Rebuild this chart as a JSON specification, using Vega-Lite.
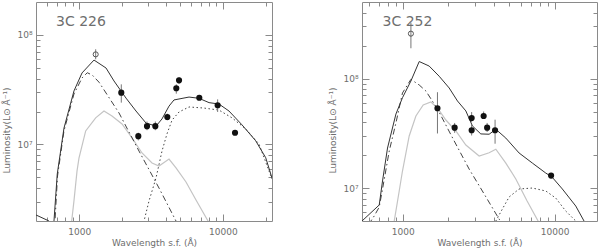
{
  "$schema": "https://vega.github.io/schema/vega-lite/v6.json",
  "padding": {"left": 2, "top": 1, "right": 0, "bottom": 0},
  "background": "white",
  "config": {
    "view": {"stroke": "#8a8a8a", "strokeWidth": 1},
    "font": "DejaVu Sans",
    "axis": {"domain": false, "grid": false, "tickColor": "#8a8a8a", "tickWidth": 1, "labelColor": "#6e6e6e", "titleColor": "#6e6e6e", "labelFont": "DejaVu Sans", "titleFont": "DejaVu Sans", "labelFontSize": 9, "titleFontSize": 9, "titleFontWeight": "normal"}
  },
  "datasets": {
    "curves": [
      {"p": "226", "s": "total", "w": 500, "L": 2.27e6}, {"p": "226", "s": "total", "w": 616, "L": 2.0e6}, {"p": "226", "s": "total", "w": 640, "L": 1.8e6}, {"p": "226", "s": "total", "w": 667, "L": 2.0e6}, {"p": "226", "s": "total", "w": 703, "L": 5.37e6}, {"p": "226", "s": "total", "w": 783, "L": 1.41e7}, {"p": "226", "s": "total", "w": 919, "L": 3.08e7}, {"p": "226", "s": "total", "w": 1046, "L": 4.5e7}, {"p": "226", "s": "total", "w": 1267, "L": 5.9e7}, {"p": "226", "s": "total", "w": 1537, "L": 4.99e7}, {"p": "226", "s": "total", "w": 1746, "L": 3.8e7}, {"p": "226", "s": "total", "w": 2118, "L": 2.65e7}, {"p": "226", "s": "total", "w": 2485, "L": 2.02e7}, {"p": "226", "s": "total", "w": 2917, "L": 1.57e7}, {"p": "226", "s": "total", "w": 3425, "L": 1.47e7}, {"p": "226", "s": "total", "w": 3770, "L": 1.71e7}, {"p": "226", "s": "total", "w": 4220, "L": 2.24e7}, {"p": "226", "s": "total", "w": 4570, "L": 2.55e7}, {"p": "226", "s": "total", "w": 5815, "L": 2.71e7}, {"p": "226", "s": "total", "w": 6823, "L": 2.64e7}, {"p": "226", "s": "total", "w": 8017, "L": 2.41e7}, {"p": "226", "s": "total", "w": 9400, "L": 2.34e7}, {"p": "226", "s": "total", "w": 11040, "L": 2.02e7}, {"p": "226", "s": "total", "w": 13600, "L": 1.51e7}, {"p": "226", "s": "total", "w": 16940, "L": 1.08e7}, {"p": "226", "s": "total", "w": 19890, "L": 7.57e6}, {"p": "226", "s": "total", "w": 22000, "L": 4.94e6},
      {"p": "226", "s": "agn", "w": 660, "L": 1.6e6}, {"p": "226", "s": "agn", "w": 678, "L": 2.0e6}, {"p": "226", "s": "agn", "w": 706, "L": 5.15e6}, {"p": "226", "s": "agn", "w": 783, "L": 1.33e7}, {"p": "226", "s": "agn", "w": 919, "L": 2.89e7}, {"p": "226", "s": "agn", "w": 1046, "L": 4.05e7}, {"p": "226", "s": "agn", "w": 1138, "L": 4.52e7}, {"p": "226", "s": "agn", "w": 1233, "L": 4.3e7}, {"p": "226", "s": "agn", "w": 1374, "L": 3.7e7}, {"p": "226", "s": "agn", "w": 1892, "L": 1.94e7}, {"p": "226", "s": "agn", "w": 2608, "L": 8.7e6}, {"p": "226", "s": "agn", "w": 3594, "L": 4.0e6}, {"p": "226", "s": "agn", "w": 4720, "L": 2.0e6}, {"p": "226", "s": "agn", "w": 5000, "L": 1.7e6},
      {"p": "226", "s": "old", "w": 2750, "L": 1.5e6}, {"p": "226", "s": "old", "w": 2826, "L": 2.0e6}, {"p": "226", "s": "old", "w": 3062, "L": 3.05e6}, {"p": "226", "s": "old", "w": 3425, "L": 4.94e6}, {"p": "226", "s": "old", "w": 3770, "L": 8.7e6}, {"p": "226", "s": "old", "w": 4085, "L": 1.25e7}, {"p": "226", "s": "old", "w": 4430, "L": 1.67e7}, {"p": "226", "s": "old", "w": 4955, "L": 1.98e7}, {"p": "226", "s": "old", "w": 5815, "L": 2.2e7}, {"p": "226", "s": "old", "w": 7396, "L": 2.15e7}, {"p": "226", "s": "old", "w": 9400, "L": 2.06e7}, {"p": "226", "s": "old", "w": 11590, "L": 1.75e7}, {"p": "226", "s": "old", "w": 14490, "L": 1.38e7}, {"p": "226", "s": "old", "w": 17860, "L": 1.01e7}, {"p": "226", "s": "old", "w": 22000, "L": 4.84e6},
      {"p": "226", "s": "young", "w": 870, "L": 1.7e6}, {"p": "226", "s": "young", "w": 886, "L": 2.0e6}, {"p": "226", "s": "young", "w": 919, "L": 3.05e6}, {"p": "226", "s": "young", "w": 965, "L": 5.7e6}, {"p": "226", "s": "young", "w": 996, "L": 7.5e6}, {"p": "226", "s": "young", "w": 1109, "L": 1.33e7}, {"p": "226", "s": "young", "w": 1302, "L": 1.75e7}, {"p": "226", "s": "young", "w": 1487, "L": 2.02e7}, {"p": "226", "s": "young", "w": 1691, "L": 1.82e7}, {"p": "226", "s": "young", "w": 1986, "L": 1.54e7}, {"p": "226", "s": "young", "w": 2332, "L": 1.15e7}, {"p": "226", "s": "young", "w": 2737, "L": 8.36e6}, {"p": "226", "s": "young", "w": 3213, "L": 6.78e6}, {"p": "226", "s": "young", "w": 3594, "L": 6.36e6}, {"p": "226", "s": "young", "w": 4220, "L": 7.36e6}, {"p": "226", "s": "young", "w": 4720, "L": 6.1e6}, {"p": "226", "s": "young", "w": 5541, "L": 4.54e6}, {"p": "226", "s": "young", "w": 6505, "L": 3.11e6}, {"p": "226", "s": "young", "w": 7887, "L": 2.0e6}, {"p": "226", "s": "young", "w": 8200, "L": 1.8e6},
      {"p": "252", "s": "total", "w": 540, "L": 5.0e6}, {"p": "252", "s": "total", "w": 701, "L": 7.0e6}, {"p": "252", "s": "total", "w": 737, "L": 1.16e7}, {"p": "252", "s": "total", "w": 795, "L": 2.32e7}, {"p": "252", "s": "total", "w": 903, "L": 4.74e7}, {"p": "252", "s": "total", "w": 997, "L": 6.68e7}, {"p": "252", "s": "total", "w": 1133, "L": 9.5e7}, {"p": "252", "s": "total", "w": 1285, "L": 1.43e8}, {"p": "252", "s": "total", "w": 1494, "L": 1.30e8}, {"p": "252", "s": "total", "w": 1738, "L": 1.05e8}, {"p": "252", "s": "total", "w": 2023, "L": 8.2e7}, {"p": "252", "s": "total", "w": 2294, "L": 6.24e7}, {"p": "252", "s": "total", "w": 2605, "L": 5.06e7}, {"p": "252", "s": "total", "w": 2877, "L": 3.69e7}, {"p": "252", "s": "total", "w": 3268, "L": 3.12e7}, {"p": "252", "s": "total", "w": 3706, "L": 3.1e7}, {"p": "252", "s": "total", "w": 4102, "L": 3.44e7}, {"p": "252", "s": "total", "w": 4773, "L": 2.86e7}, {"p": "252", "s": "total", "w": 5834, "L": 2.09e7}, {"p": "252", "s": "total", "w": 7139, "L": 1.69e7}, {"p": "252", "s": "total", "w": 8745, "L": 1.37e7}, {"p": "252", "s": "total", "w": 9616, "L": 1.26e7}, {"p": "252", "s": "total", "w": 11240, "L": 9.8e6}, {"p": "252", "s": "total", "w": 13770, "L": 6.85e6}, {"p": "252", "s": "total", "w": 15610, "L": 5.0e6}, {"p": "252", "s": "total", "w": 16000, "L": 4.6e6},
      {"p": "252", "s": "agn", "w": 600, "L": 4.6e6}, {"p": "252", "s": "agn", "w": 618, "L": 5.0e6}, {"p": "252", "s": "agn", "w": 650, "L": 5.56e6}, {"p": "252", "s": "agn", "w": 701, "L": 6.7e6}, {"p": "252", "s": "agn", "w": 737, "L": 9.8e6}, {"p": "252", "s": "agn", "w": 816, "L": 2.18e7}, {"p": "252", "s": "agn", "w": 903, "L": 3.93e7}, {"p": "252", "s": "agn", "w": 997, "L": 7.38e7}, {"p": "252", "s": "agn", "w": 1133, "L": 9.84e7}, {"p": "252", "s": "agn", "w": 1285, "L": 8.73e7}, {"p": "252", "s": "agn", "w": 1421, "L": 7.7e7}, {"p": "252", "s": "agn", "w": 1694, "L": 5.27e7}, {"p": "252", "s": "agn", "w": 2183, "L": 2.69e7}, {"p": "252", "s": "agn", "w": 2738, "L": 1.49e7}, {"p": "252", "s": "agn", "w": 3436, "L": 8.83e6}, {"p": "252", "s": "agn", "w": 4313, "L": 5.2e6}, {"p": "252", "s": "agn", "w": 4600, "L": 4.6e6},
      {"p": "252", "s": "old", "w": 4000, "L": 4.6e6}, {"p": "252", "s": "old", "w": 4102, "L": 5.0e6}, {"p": "252", "s": "old", "w": 4532, "L": 6.44e6}, {"p": "252", "s": "old", "w": 5016, "L": 8.28e6}, {"p": "252", "s": "old", "w": 5834, "L": 9.8e6}, {"p": "252", "s": "old", "w": 7139, "L": 1.0e7}, {"p": "252", "s": "old", "w": 8745, "L": 9.4e6}, {"p": "252", "s": "old", "w": 10170, "L": 8.1e6}, {"p": "252", "s": "old", "w": 11830, "L": 6.17e6}, {"p": "252", "s": "old", "w": 13770, "L": 5.0e6}, {"p": "252", "s": "old", "w": 14200, "L": 4.6e6},
      {"p": "252", "s": "young", "w": 870, "L": 4.6e6}, {"p": "252", "s": "young", "w": 880, "L": 5.0e6}, {"p": "252", "s": "young", "w": 949, "L": 9.4e6}, {"p": "252", "s": "young", "w": 997, "L": 1.43e7}, {"p": "252", "s": "young", "w": 1104, "L": 2.99e7}, {"p": "252", "s": "young", "w": 1222, "L": 4.55e7}, {"p": "252", "s": "young", "w": 1365, "L": 5.73e7}, {"p": "252", "s": "young", "w": 1534, "L": 6.1e7}, {"p": "252", "s": "young", "w": 1694, "L": 5.38e7}, {"p": "252", "s": "young", "w": 1924, "L": 4.18e7}, {"p": "252", "s": "young", "w": 2239, "L": 3.32e7}, {"p": "252", "s": "young", "w": 2605, "L": 2.47e7}, {"p": "252", "s": "young", "w": 3186, "L": 1.96e7}, {"p": "252", "s": "young", "w": 3706, "L": 2.1e7}, {"p": "252", "s": "young", "w": 4102, "L": 2.26e7}, {"p": "252", "s": "young", "w": 4773, "L": 1.69e7}, {"p": "252", "s": "young", "w": 5553, "L": 1.21e7}, {"p": "252", "s": "young", "w": 6590, "L": 7.6e6}, {"p": "252", "s": "young", "w": 7780, "L": 5.0e6}, {"p": "252", "s": "young", "w": 8000, "L": 4.6e6}
    ],
    "pts": [
      {"p": "226", "w": 1302, "L": 6.65e7, "lo": 6.0e7, "hi": 7.4e7, "open": true},
      {"p": "226", "w": 1963, "L": 2.97e7, "lo": 2.41e7, "hi": 3.54e7, "open": false},
      {"p": "226", "w": 2579, "L": 1.19e7, "lo": 1.09e7, "hi": 1.28e7, "open": false},
      {"p": "226", "w": 2965, "L": 1.47e7, "lo": 1.35e7, "hi": 1.62e7, "open": false},
      {"p": "226", "w": 3388, "L": 1.47e7, "lo": 1.35e7, "hi": 1.62e7, "open": false},
      {"p": "226", "w": 4106, "L": 1.78e7, "lo": 1.66e7, "hi": 1.91e7, "open": false},
      {"p": "226", "w": 4742, "L": 3.26e7, "lo": 2.91e7, "hi": 3.54e7, "open": false},
      {"p": "226", "w": 4955, "L": 3.85e7, "lo": 3.6e7, "hi": 4.1e7, "open": false},
      {"p": "226", "w": 6856, "L": 2.67e7, "lo": 2.55e7, "hi": 2.8e7, "open": false},
      {"p": "226", "w": 9204, "L": 2.28e7, "lo": 1.98e7, "hi": 2.58e7, "open": false},
      {"p": "226", "w": 12160, "L": 1.28e7, "lo": 1.24e7, "hi": 1.32e7, "open": false},
      {"p": "252", "w": 1133, "L": 2.57e8, "lo": 1.89e8, "hi": 3.24e8, "open": true},
      {"p": "252", "w": 1694, "L": 5.35e7, "lo": 3.15e7, "hi": 7.5e7, "open": false},
      {"p": "252", "w": 2198, "L": 3.56e7, "lo": 3.19e7, "hi": 3.93e7, "open": false},
      {"p": "252", "w": 2844, "L": 4.36e7, "lo": 4.0e7, "hi": 4.94e7, "open": false},
      {"p": "252", "w": 2844, "L": 3.37e7, "lo": 3.02e7, "hi": 3.77e7, "open": false},
      {"p": "252", "w": 3411, "L": 4.55e7, "lo": 4.27e7, "hi": 5.0e7, "open": false},
      {"p": "252", "w": 3596, "L": 3.56e7, "lo": 3.25e7, "hi": 3.93e7, "open": false},
      {"p": "252", "w": 4055, "L": 3.37e7, "lo": 2.54e7, "hi": 4.21e7, "open": false},
      {"p": "252", "w": 9476, "L": 1.3e7, "lo": 1.26e7, "hi": 1.34e7, "open": false}
    ],
    "labels": [
      {"p": "226", "name": "3C 226"},
      {"p": "252", "name": "3C 252"}
    ]
  },
  "hconcat": [
    {
      "width": 236, "height": 219,
      "resolve": {"axis": {"x": "independent", "y": "independent"}},
      "layer": [
        {"data": {"name": "curves"}, "transform": [{"filter": "datum.p == '226' && datum.s == 'young'"}],
         "mark": {"type": "line", "clip": true, "color": "#c4c4c4", "strokeWidth": 1.2},
         "encoding": {
           "x": {"field": "w", "type": "quantitative", "scale": {"type": "log", "domain": [500, 22000], "nice": false}, "axis": {"orient": "bottom", "values": [1000, 10000], "format": "d", "tickSize": -7, "labelPadding": 13, "title": "Wavelength s.f. (Å)", "titlePadding": 2}},
           "y": {"field": "L", "type": "quantitative", "scale": {"type": "log", "domain": [2e6, 2e8], "nice": false}, "axis": {"orient": "left", "values": [1e7, 1e8], "labelExpr": "datum.value >= 1e8 ? '10⁸' : '10⁷'", "tickSize": -7, "labelPadding": 11, "title": "Luminosity(L⊙ Å⁻¹)", "titlePadding": 5, "titleY": 128}}
         }},
        {"data": {"name": "curves"}, "transform": [{"filter": "datum.p == '226' && datum.s == 'agn'"}],
         "mark": {"type": "line", "clip": true, "color": "#444444", "strokeWidth": 1, "strokeDash": [6, 3, 1.5, 3]},
         "encoding": {
           "x": {"field": "w", "type": "quantitative", "axis": {"orient": "bottom", "values": [600, 700, 800, 900, 2000, 3000, 4000, 5000, 6000, 7000, 8000, 9000, 20000], "labels": false, "tickSize": -4, "title": null}},
           "y": {"field": "L", "type": "quantitative", "axis": {"orient": "left", "values": [3e6, 4e6, 5e6, 6e6, 7e6, 8e6, 9e6, 2e7, 3e7, 4e7, 5e7, 6e7, 7e7, 8e7, 9e7], "labels": false, "tickSize": -4, "title": null}}
         }},
        {"data": {"name": "curves"}, "transform": [{"filter": "datum.p == '226' && datum.s == 'old'"}],
         "mark": {"type": "line", "clip": true, "color": "#444444", "strokeWidth": 1, "strokeDash": [1.5, 2.5]},
         "encoding": {
           "x": {"field": "w", "type": "quantitative", "axis": {"orient": "top", "values": [1000, 10000], "labels": false, "tickSize": -7, "title": null}},
           "y": {"field": "L", "type": "quantitative", "axis": {"orient": "right", "values": [1e7, 1e8], "labels": false, "tickSize": -7, "title": null}}
         }},
        {"data": {"name": "curves"}, "transform": [{"filter": "datum.p == '226' && datum.s == 'total'"}],
         "mark": {"type": "line", "clip": true, "color": "#333333", "strokeWidth": 1},
         "encoding": {
           "x": {"field": "w", "type": "quantitative", "axis": {"orient": "top", "values": [600, 700, 800, 900, 2000, 3000, 4000, 5000, 6000, 7000, 8000, 9000, 20000], "labels": false, "tickSize": -4, "title": null}},
           "y": {"field": "L", "type": "quantitative", "axis": {"orient": "right", "values": [3e6, 4e6, 5e6, 6e6, 7e6, 8e6, 9e6, 2e7, 3e7, 4e7, 5e7, 6e7, 7e7, 8e7, 9e7], "labels": false, "tickSize": -4, "title": null}}
         }},
        {"data": {"name": "pts"}, "transform": [{"filter": "datum.p == '226'"}],
         "mark": {"type": "rule", "clip": true, "color": "#777777", "strokeWidth": 1},
         "encoding": {
           "x": {"field": "w", "type": "quantitative", "axis": null},
           "y": {"field": "lo", "type": "quantitative", "axis": null},
           "y2": {"field": "hi"}
         }},
        {"data": {"name": "pts"}, "transform": [{"filter": "datum.p == '226' && !datum.open"}],
         "mark": {"type": "point", "clip": true, "filled": true, "color": "#111111", "size": 38, "opacity": 1},
         "encoding": {
           "x": {"field": "w", "type": "quantitative", "axis": null},
           "y": {"field": "L", "type": "quantitative", "axis": null}
         }},
        {"data": {"name": "pts"}, "transform": [{"filter": "datum.p == '226' && datum.open"}],
         "mark": {"type": "point", "clip": true, "filled": false, "color": "#555555", "size": 26, "strokeWidth": 1, "opacity": 1},
         "encoding": {
           "x": {"field": "w", "type": "quantitative", "axis": null},
           "y": {"field": "L", "type": "quantitative", "axis": null}
         }},
        {"data": {"name": "labels"}, "transform": [{"filter": "datum.p == '226'"}],
         "mark": {"type": "text", "align": "left", "baseline": "middle", "fontSize": 14, "color": "#6e6e6e", "font": "DejaVu Sans"},
         "encoding": {
           "text": {"field": "name"},
           "x": {"datum": 689, "type": "quantitative", "axis": null},
           "y": {"datum": 1.31e8, "type": "quantitative", "axis": null}
         }}
      ]
    },
    {
      "width": 235, "height": 219,
      "resolve": {"axis": {"x": "independent", "y": "independent"}},
      "layer": [
        {"data": {"name": "curves"}, "transform": [{"filter": "datum.p == '252' && datum.s == 'young'"}],
         "mark": {"type": "line", "clip": true, "color": "#c4c4c4", "strokeWidth": 1.2},
         "encoding": {
           "x": {"field": "w", "type": "quantitative", "scale": {"type": "log", "domain": [540, 19000], "nice": false}, "axis": {"orient": "bottom", "values": [1000, 10000], "format": "d", "tickSize": -7, "labelPadding": 13, "title": "Wavelength s.f. (Å)", "titlePadding": 2}},
           "y": {"field": "L", "type": "quantitative", "scale": {"type": "log", "domain": [5e6, 5e8], "nice": false}, "axis": {"orient": "left", "values": [1e7, 1e8], "labelExpr": "datum.value >= 1e8 ? '10⁸' : '10⁷'", "tickSize": -7, "labelPadding": 11, "title": "Luminosity(L⊙ Å⁻¹)", "titlePadding": 5, "titleY": 128}}
         }},
        {"data": {"name": "curves"}, "transform": [{"filter": "datum.p == '252' && datum.s == 'agn'"}],
         "mark": {"type": "line", "clip": true, "color": "#444444", "strokeWidth": 1, "strokeDash": [6, 3, 1.5, 3]},
         "encoding": {
           "x": {"field": "w", "type": "quantitative", "axis": {"orient": "bottom", "values": [600, 700, 800, 900, 2000, 3000, 4000, 5000, 6000, 7000, 8000, 9000], "labels": false, "tickSize": -4, "title": null}},
           "y": {"field": "L", "type": "quantitative", "axis": {"orient": "left", "values": [6e6, 7e6, 8e6, 9e6, 2e7, 3e7, 4e7, 5e7, 6e7, 7e7, 8e7, 9e7, 2e8, 3e8, 4e8], "labels": false, "tickSize": -4, "title": null}}
         }},
        {"data": {"name": "curves"}, "transform": [{"filter": "datum.p == '252' && datum.s == 'old'"}],
         "mark": {"type": "line", "clip": true, "color": "#444444", "strokeWidth": 1, "strokeDash": [1.5, 2.5]},
         "encoding": {
           "x": {"field": "w", "type": "quantitative", "axis": {"orient": "top", "values": [1000, 10000], "labels": false, "tickSize": -7, "title": null}},
           "y": {"field": "L", "type": "quantitative", "axis": {"orient": "right", "values": [1e7, 1e8], "labels": false, "tickSize": -7, "title": null}}
         }},
        {"data": {"name": "curves"}, "transform": [{"filter": "datum.p == '252' && datum.s == 'total'"}],
         "mark": {"type": "line", "clip": true, "color": "#333333", "strokeWidth": 1},
         "encoding": {
           "x": {"field": "w", "type": "quantitative", "axis": {"orient": "top", "values": [600, 700, 800, 900, 2000, 3000, 4000, 5000, 6000, 7000, 8000, 9000], "labels": false, "tickSize": -4, "title": null}},
           "y": {"field": "L", "type": "quantitative", "axis": {"orient": "right", "values": [6e6, 7e6, 8e6, 9e6, 2e7, 3e7, 4e7, 5e7, 6e7, 7e7, 8e7, 9e7, 2e8, 3e8, 4e8], "labels": false, "tickSize": -4, "title": null}}
         }},
        {"data": {"name": "pts"}, "transform": [{"filter": "datum.p == '252'"}],
         "mark": {"type": "rule", "clip": true, "color": "#777777", "strokeWidth": 1},
         "encoding": {
           "x": {"field": "w", "type": "quantitative", "axis": null},
           "y": {"field": "lo", "type": "quantitative", "axis": null},
           "y2": {"field": "hi"}
         }},
        {"data": {"name": "pts"}, "transform": [{"filter": "datum.p == '252' && !datum.open"}],
         "mark": {"type": "point", "clip": true, "filled": true, "color": "#111111", "size": 38, "opacity": 1},
         "encoding": {
           "x": {"field": "w", "type": "quantitative", "axis": null},
           "y": {"field": "L", "type": "quantitative", "axis": null}
         }},
        {"data": {"name": "pts"}, "transform": [{"filter": "datum.p == '252' && datum.open"}],
         "mark": {"type": "point", "clip": true, "filled": false, "color": "#555555", "size": 26, "strokeWidth": 1, "opacity": 1},
         "encoding": {
           "x": {"field": "w", "type": "quantitative", "axis": null},
           "y": {"field": "L", "type": "quantitative", "axis": null}
         }},
        {"data": {"name": "labels"}, "transform": [{"filter": "datum.p == '252'"}],
         "mark": {"type": "text", "align": "left", "baseline": "middle", "fontSize": 14, "color": "#6e6e6e", "font": "DejaVu Sans"},
         "encoding": {
           "text": {"field": "name"},
           "x": {"datum": 737, "type": "quantitative", "axis": null},
           "y": {"datum": 3.28e8, "type": "quantitative", "axis": null}
         }}
      ]
    }
  ],
  "spacing": 90,
  "bounds": "flush"
}
